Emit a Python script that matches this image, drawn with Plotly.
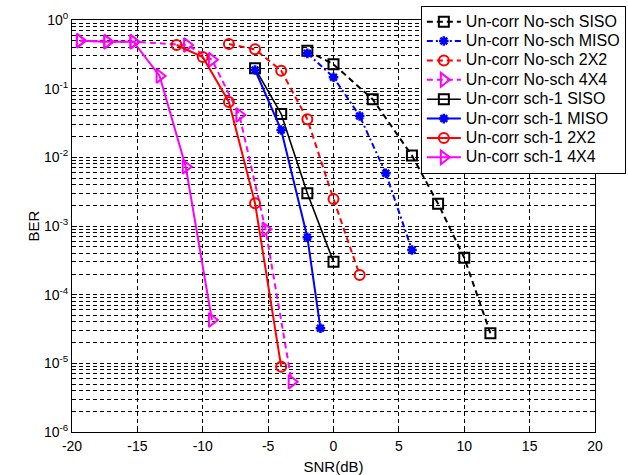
import plotly.graph_objects as go

# ---- data ----
snr_nosch_siso = [-2, 0, 3, 6, 8, 10, 12]
ber_nosch_siso = [0.357, 0.226, 0.070, 0.0106, 0.00211, 3.45e-4, 2.74e-5]

snr_nosch_miso = [-2, 0, 2, 4, 6]
ber_nosch_miso = [0.327, 0.1465, 0.040, 0.00586, 4.47e-4]

snr_nosch_2x2 = [-8, -6, -4, -2, 0, 2]
ber_nosch_2x2 = [0.447, 0.374, 0.183, 0.0358, 0.00247, 1.94e-4]

snr_nosch_4x4 = [-19.4, -17.3, -15.3, -11.2, -9.3, -7.2, -5.2, -3.2]
ber_nosch_4x4 = [0.5, 0.483, 0.483, 0.432, 0.264, 0.0414, 8.95e-4, 5.4e-6]

snr_sch1_siso = [-6, -4, -2, 0]
ber_sch1_siso = [0.198, 0.0428, 0.0030, 3.02e-4]

snr_sch1_miso = [-6, -4, -2, -1]
ber_sch1_miso = [0.187, 0.025, 6.85e-4, 3.24e-5]

snr_sch1_2x2 = [-12, -10, -8, -6, -4]
ber_sch1_2x2 = [0.432, 0.289, 0.064, 0.00214, 8.9e-6]

snr_sch1_4x4 = [-19.4, -17.3, -15.3, -13.3, -11.3, -9.3]
ber_sch1_4x4 = [0.5, 0.483, 0.483, 0.153, 0.0073, 4.28e-5]

names = ["Un-corr No-sch SISO", "Un-corr No-sch MISO", "Un-corr No-sch 2X2",
         "Un-corr No-sch 4X4", "Un-corr sch-1 SISO", "Un-corr sch-1 MISO",
         "Un-corr sch-1 2X2", "Un-corr sch-1 4X4"]

x_tickvals = [-20, -15, -10, -5, 0, 5, 10, 15, 20]
x_ticktext = ["-20", "-15", "-10", "-5", "0", "5", "10", "15", "20"]
y_tickvals = [1, 1e-1, 1e-2, 1e-3, 1e-4, 1e-5, 1e-6]
y_ticktext = ["10<sup>0</sup>", "10<sup>-1</sup>", "10<sup>-2</sup>", "10<sup>-3</sup>",
              "10<sup>-4</sup>", "10<sup>-5</sup>", "10<sup>-6</sup>"]

series = [
    (snr_nosch_siso, ber_nosch_siso, "#000000", "6px,4px", "square-open", 10, 2),
    (snr_nosch_miso, ber_nosch_miso, "#0000FF", "6px,3px,2px,3px", "asterisk-open", 8, 2),
    (snr_nosch_2x2, ber_nosch_2x2, "#FF0000", "6px,4px", "circle-open", 10, 2),
    (snr_nosch_4x4, ber_nosch_4x4, "#FF00FF", "6px,4px", "triangle-right-open", 12, 2),
    (snr_sch1_siso, ber_sch1_siso, "#000000", "solid", "square-open", 10, 1.6),
    (snr_sch1_miso, ber_sch1_miso, "#0000FF", "solid", "asterisk-open", 8, 2),
    (snr_sch1_2x2, ber_sch1_2x2, "#FF0000", "solid", "circle-open", 10, 2),
    (snr_sch1_4x4, ber_sch1_4x4, "#FF00FF", "solid", "triangle-right-open", 12, 2),
]

fig = go.Figure()
for (xs, ys, col, dash, sym, sz, lw), nm in zip(series, names):
    fig.add_trace(go.Scatter(
        x=xs, y=ys, mode="lines+markers",
        name='<span style="font-size:16px">' + nm + '</span>',
        line=dict(color=col, width=lw, dash=dash),
        marker=dict(symbol=sym, size=sz, color=col,
                    line=dict(color=col, width=2.5 if "asterisk" in sym else 2)),
    ))

fig.update_layout(
    width=628, height=475,
    margin=dict(l=72, r=33, t=20, b=43, autoexpand=False),
    paper_bgcolor="white", plot_bgcolor="white",
    font=dict(family="Arial, Liberation Sans, sans-serif", size=14, color="#000000"),
    showlegend=True,
    legend=dict(x=0.667, y=1.034, xanchor="left", yanchor="top",
                bgcolor="white", bordercolor="#000000", borderwidth=1,
                font=dict(size=12.6), tracegroupgap=0, itemwidth=34),
)
fig.update_xaxes(range=[-20, 20], tickmode="array", tickvals=x_tickvals, ticktext=x_ticktext,
                 ticks="inside", ticklen=5, tickcolor="#000000", ticklabelstandoff=1,
                 showline=True, linecolor="#000000", linewidth=1, mirror="ticks",
                 zeroline=False, automargin=False,
                 showgrid=True, gridcolor="#000000", gridwidth=1, griddash="4px,3px",
                 title=dict(text="SNR(dB)", font=dict(size=15), standoff=8))
fig.update_yaxes(type="log", range=[-6, 0], tickmode="array", tickvals=y_tickvals,
                 ticktext=y_ticktext, automargin=False,
                 ticks="inside", ticklen=5, tickcolor="#000000",
                 showline=True, linecolor="#000000", linewidth=1, mirror="ticks",
                 zeroline=False,
                 showgrid=True, gridcolor="#000000", gridwidth=1, griddash="4px,3px",
                 title=dict(text="BER", font=dict(size=15), standoff=0),
                 minor=dict(dtick="D1", showgrid=True, gridcolor="#000000",
                            griddash="4px,3px", gridwidth=1,
                            ticks="inside", ticklen=3, tickcolor="#000000"))

fig.write_html("out.html")
